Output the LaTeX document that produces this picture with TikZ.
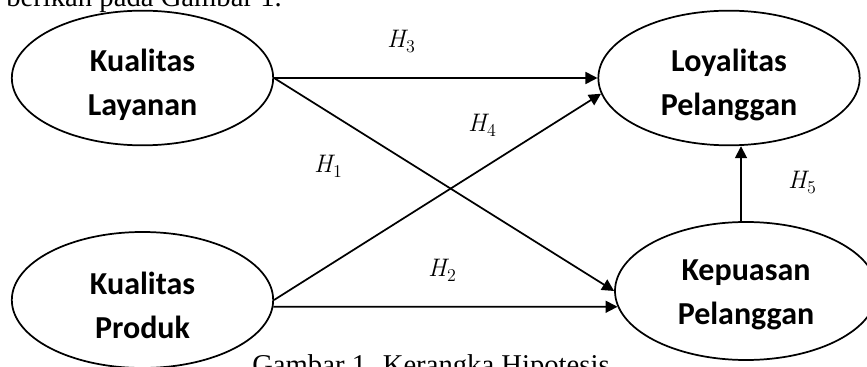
\documentclass[tikz,border=0pt]{standalone}
\usepackage{fontspec}
\setmainfont{Liberation Serif}
\newfontfamily\calibri{Carlito}
\newfontfamily\lmr{Latin Modern Roman}
\usetikzlibrary{arrows.meta,positioning,calc,shapes.geometric}
\newcommand\hyplabel[1]{{\itshape H}\kern0.5pt\raisebox{-3.8pt}{\fontsize{13.5}{15}\selectfont #1}}
\tikzset{
  latent/.style = {draw, ellipse, line width=1.3pt, minimum width=196pt,
                   minimum height=101pt, inner sep=0pt},
  cname/.style  = {align=center, inner sep=0pt,
                   font=\calibri\bfseries\fontsize{24}{33}\selectfont},
  hyp/.style    = {-{Triangle[length=9pt,width=9pt]}, line width=1.3pt},
  lbl/.style    = {font=\lmr\fontsize{19}{22}\selectfont, inner sep=0pt},
  doc/.style    = {font=\fontsize{21.5}{26}\selectfont, inner sep=0pt},
}

\begin{document}
\begin{tikzpicture}[x=0.75pt,y=-0.75pt]
  \clip (0,0) rectangle (867,367);
  % running text of the page around the figure
  \node[doc, anchor=base east] (prev) at (282,7) {berikan pada Gambar 1.};
  \node[doc, anchor=base west] (cap) at (252,374) {Gambar 1. Kerangka Hipotesis};
  % constructs
  \node[latent] (lay) at (142.5,78) {};
  \node[latent, minimum height=102pt] (prod) at (142.5,300) {};
  \node[latent] (loy) at (729,78) {};
  \node[latent, minimum width=196.5pt, minimum height=103.5pt] (kep) at (746,291) {};
  \node[cname] (lay-t)  at ($(lay)+(0,6.5)$)  {Kualitas\\Layanan};
  \node[cname] (prod-t) at ($(prod)+(0,5)$)   {Kualitas\\Produk};
  \node[cname] (loy-t)  at ($(loy)+(0,6.5)$)  {Loyalitas\\Pelanggan};
  \node[cname] (kep-t)  at ($(kep)+(0,3.5)$)  {Kepuasan\\Pelanggan};
  % hypotheses
  \draw[hyp] (lay.east) -- (loy.west);
  \draw[hyp] (lay.east) -- (kep.west);
  \draw[hyp] (prod.east) -- (loy.187);
  \draw[hyp] (prod.357) -- (kep.187);
  \draw[hyp] ([xshift=-3.75pt]kep.north) -- ([xshift=-3.75pt]kep.north |- loy.south);
  \node[lbl] (h1) at (328,166) {\hyplabel{1}};
  \node[lbl] (h2) at (442,270) {\hyplabel{2}};
  \node[lbl] (h3) at (401,42)  {\hyplabel{3}};
  \node[lbl] (h4) at (482,125) {\hyplabel{4}};
  \node[lbl] (h5) at (802,183) {\hyplabel{5}};
\end{tikzpicture}
\end{document}
